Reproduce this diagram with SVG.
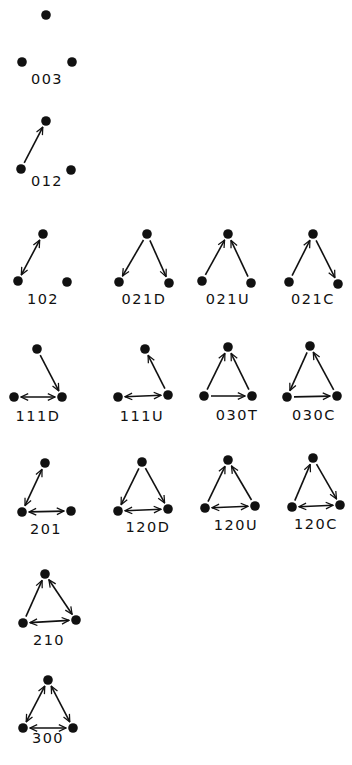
<svg xmlns="http://www.w3.org/2000/svg" width="352" height="765" viewBox="0 0 352 765">
<style>
.d{fill:#111}
.l{font-family:"DejaVu Sans","Liberation Sans",sans-serif;font-size:14.5px;letter-spacing:1.5px;fill:#111;text-anchor:middle}
.e{stroke:#111;stroke-width:1.6;fill:none;marker-end:url(#ah)}
.b{stroke:#111;stroke-width:1.6;fill:none;marker-end:url(#ah);marker-start:url(#ah)}
</style>
<defs>
<marker id="ah" viewBox="0 0 10 10" refX="9" refY="5" markerWidth="9" markerHeight="9" markerUnits="userSpaceOnUse" orient="auto-start-reverse">
<path d="M1,1.3 L9,5 L1,8.7" fill="none" stroke="#111" stroke-width="1.4"/>
</marker>
</defs>
<rect width="352" height="765" fill="#fff"/>
<g id="t003"><circle class="d" cx="46" cy="15" r="4.8"/><circle class="d" cx="22" cy="62" r="4.8"/><circle class="d" cx="72" cy="62" r="4.8"/><text class="l" x="47" y="84">003</text></g>
<g id="t012"><circle class="d" cx="46" cy="121" r="4.8"/><circle class="d" cx="21" cy="169" r="4.8"/><circle class="d" cx="71" cy="170" r="4.8"/><text class="l" x="47" y="186">012</text></g>
<g id="t102"><circle class="d" cx="43" cy="234" r="4.8"/><circle class="d" cx="18" cy="281" r="4.8"/><circle class="d" cx="67" cy="282" r="4.8"/><text class="l" x="43" y="304">102</text></g>
<g id="t021D"><circle class="d" cx="147" cy="234" r="4.8"/><circle class="d" cx="119" cy="282" r="4.8"/><circle class="d" cx="169" cy="283" r="4.8"/><text class="l" x="144" y="304">021D</text></g>
<g id="t021U"><circle class="d" cx="228" cy="234" r="4.8"/><circle class="d" cx="202" cy="281" r="4.8"/><circle class="d" cx="251" cy="283" r="4.8"/><text class="l" x="228" y="304">021U</text></g>
<g id="t021C"><circle class="d" cx="313" cy="234" r="4.8"/><circle class="d" cx="289" cy="282" r="4.8"/><circle class="d" cx="338" cy="284" r="4.8"/><text class="l" x="313" y="304">021C</text></g>
<g id="t111D"><circle class="d" cx="37" cy="349" r="4.8"/><circle class="d" cx="14" cy="397" r="4.8"/><circle class="d" cx="62" cy="397" r="4.8"/><text class="l" x="38" y="421">111D</text></g>
<g id="t111U"><circle class="d" cx="145" cy="349" r="4.8"/><circle class="d" cx="118" cy="397" r="4.8"/><circle class="d" cx="168" cy="395" r="4.8"/><text class="l" x="142" y="421">111U</text></g>
<g id="t030T"><circle class="d" cx="228" cy="347" r="4.8"/><circle class="d" cx="204" cy="396" r="4.8"/><circle class="d" cx="252" cy="396" r="4.8"/><text class="l" x="237" y="420">030T</text></g>
<g id="t030C"><circle class="d" cx="310" cy="346" r="4.8"/><circle class="d" cx="287" cy="397" r="4.8"/><circle class="d" cx="337" cy="396" r="4.8"/><text class="l" x="314" y="420">030C</text></g>
<g id="t201"><circle class="d" cx="45" cy="463" r="4.8"/><circle class="d" cx="22" cy="512" r="4.8"/><circle class="d" cx="71" cy="511" r="4.8"/><text class="l" x="46" y="534">201</text></g>
<g id="t120D"><circle class="d" cx="142" cy="462" r="4.8"/><circle class="d" cx="118" cy="511" r="4.8"/><circle class="d" cx="168" cy="509" r="4.8"/><text class="l" x="148" y="532">120D</text></g>
<g id="t120U"><circle class="d" cx="228" cy="460" r="4.8"/><circle class="d" cx="205" cy="508" r="4.8"/><circle class="d" cx="255" cy="506" r="4.8"/><text class="l" x="236" y="530">120U</text></g>
<g id="t120C"><circle class="d" cx="313" cy="458" r="4.8"/><circle class="d" cx="292" cy="507" r="4.8"/><circle class="d" cx="340" cy="505" r="4.8"/><text class="l" x="316" y="529">120C</text></g>
<g id="t210"><circle class="d" cx="45" cy="574" r="4.8"/><circle class="d" cx="23" cy="623" r="4.8"/><circle class="d" cx="76" cy="620" r="4.8"/><text class="l" x="49" y="645">210</text></g>
<g id="t300"><circle class="d" cx="48" cy="680" r="4.8"/><circle class="d" cx="23" cy="728" r="4.8"/><circle class="d" cx="73" cy="728" r="4.8"/><text class="l" x="48" y="743">300</text></g>
<g id="connectors">
<line class="e" x1="24.2" y1="162.8" x2="42.8" y2="127.2"/>
<line class="b" x1="21.3" y1="274.8" x2="39.7" y2="240.2"/>
<line class="e" x1="143.5" y1="240" x2="122.5" y2="276"/>
<line class="e" x1="149.9" y1="240.4" x2="166.1" y2="276.6"/>
<line class="e" x1="205.4" y1="274.9" x2="224.6" y2="240.1"/>
<line class="e" x1="248" y1="276.7" x2="231" y2="240.3"/>
<line class="e" x1="292.1" y1="275.7" x2="309.9" y2="240.3"/>
<line class="e" x1="316.1" y1="240.3" x2="334.9" y2="277.7"/>
<line class="e" x1="40.2" y1="355.2" x2="58.8" y2="390.8"/>
<line class="b" x1="21" y1="397" x2="55" y2="397"/>
<line class="e" x1="164.9" y1="388.7" x2="148.1" y2="355.3"/>
<line class="b" x1="125" y1="396.7" x2="161" y2="395.3"/>
<line class="e" x1="207.1" y1="389.7" x2="224.9" y2="353.3"/>
<line class="e" x1="248.9" y1="389.7" x2="231.1" y2="353.3"/>
<line class="e" x1="211" y1="396" x2="245" y2="396"/>
<line class="e" x1="307.1" y1="352.4" x2="289.9" y2="390.6"/>
<line class="e" x1="294" y1="396.9" x2="330" y2="396.1"/>
<line class="e" x1="333.7" y1="389.8" x2="313.3" y2="352.2"/>
<line class="b" x1="25" y1="505.7" x2="42" y2="469.3"/>
<line class="b" x1="29" y1="511.9" x2="64" y2="511.1"/>
<line class="e" x1="138.9" y1="468.3" x2="121.1" y2="504.7"/>
<line class="e" x1="145.4" y1="468.1" x2="164.6" y2="502.9"/>
<line class="b" x1="125" y1="510.7" x2="161" y2="509.3"/>
<line class="e" x1="208" y1="501.7" x2="225" y2="466.3"/>
<line class="e" x1="251.5" y1="500" x2="231.5" y2="466"/>
<line class="b" x1="212" y1="507.7" x2="248" y2="506.3"/>
<line class="e" x1="294.8" y1="500.6" x2="310.2" y2="464.4"/>
<line class="e" x1="316.5" y1="464.1" x2="336.5" y2="498.9"/>
<line class="b" x1="299" y1="506.7" x2="333" y2="505.3"/>
<line class="e" x1="25.9" y1="616.6" x2="42.1" y2="580.4"/>
<line class="b" x1="48.9" y1="579.8" x2="72.1" y2="614.2"/>
<line class="b" x1="30" y1="622.6" x2="69" y2="620.4"/>
<line class="b" x1="44.8" y1="686.2" x2="26.2" y2="721.8"/>
<line class="b" x1="51.2" y1="686.2" x2="69.8" y2="721.8"/>
<line class="b" x1="30" y1="728" x2="66" y2="728"/>
</g>
</svg>
